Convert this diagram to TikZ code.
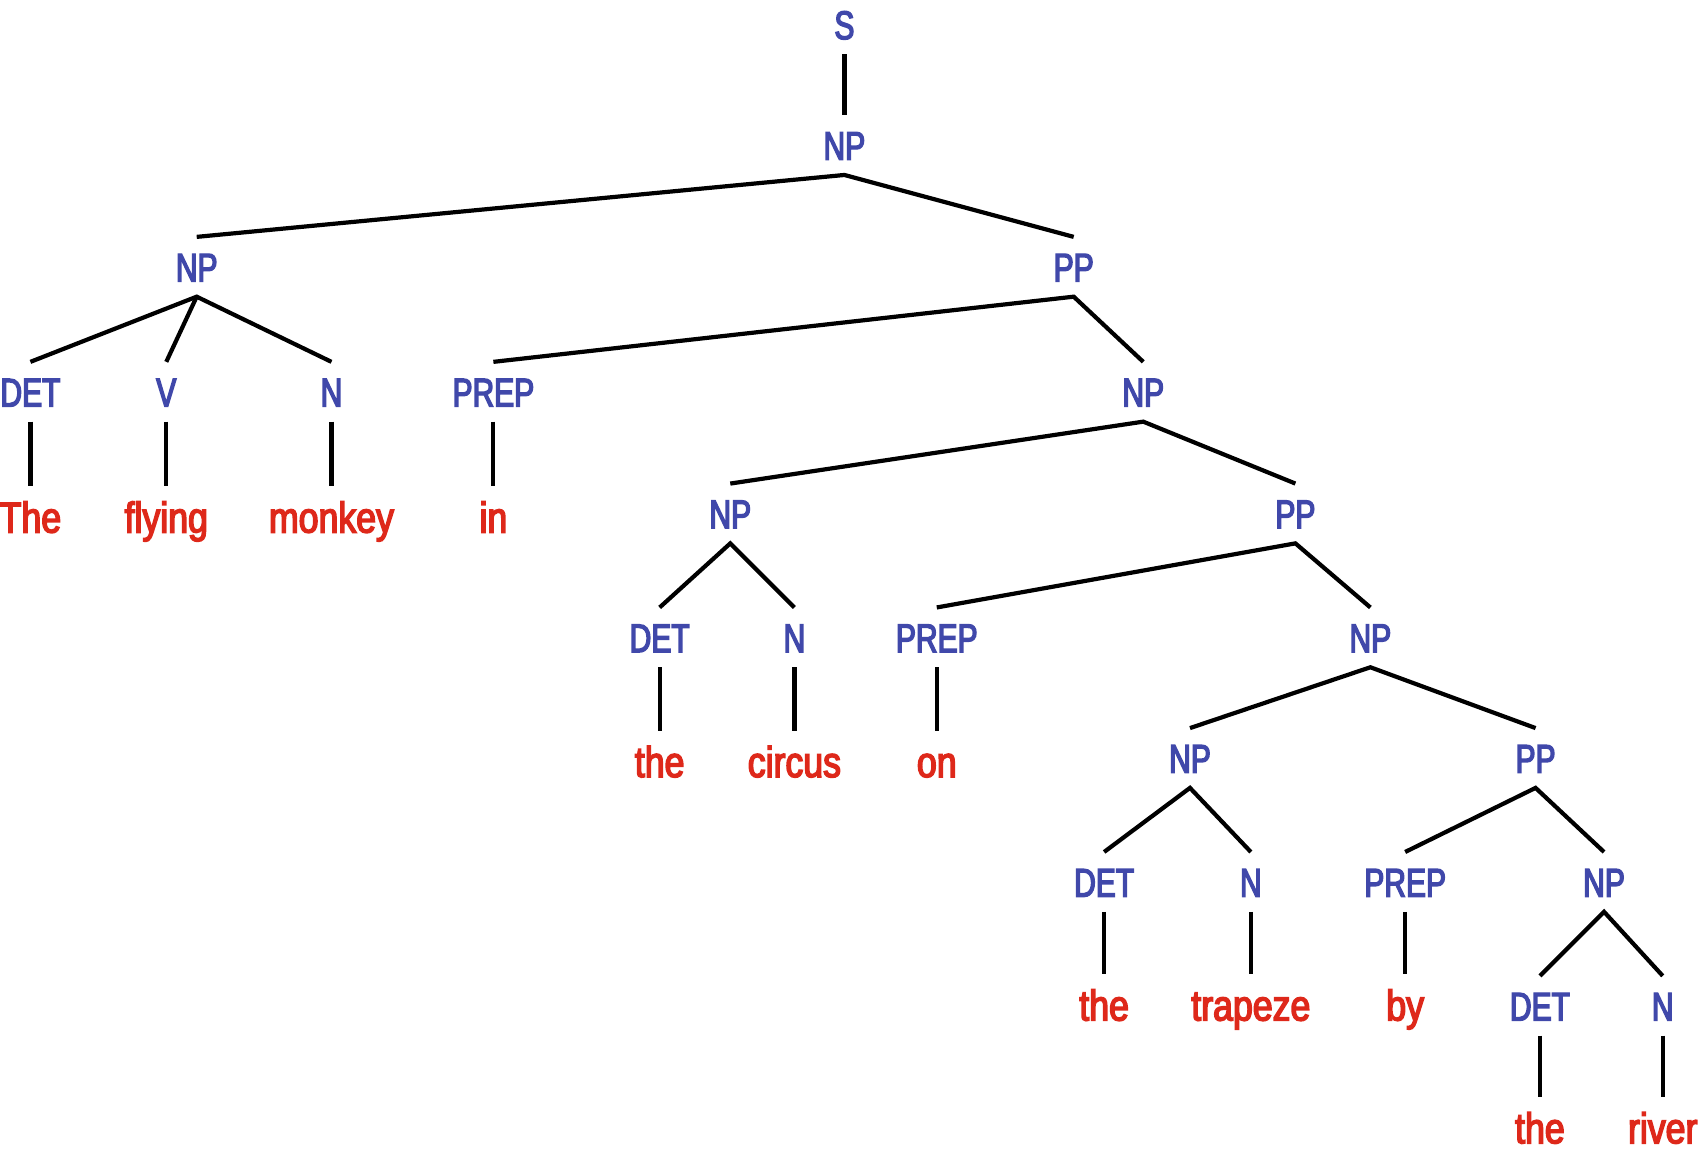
\documentclass[tikz,border=0pt]{standalone}
\usepackage{fontspec}
\newfontfamily\labfam[FakeStretch=0.75,FakeBold=3.5]{Liberation Sans}
\newfontfamily\wordfam[FakeStretch=0.83,FakeBold=3.5]{Liberation Sans}
\definecolor{labblue}{RGB}{64,72,170}
\definecolor{wordred}{RGB}{222,40,26}
\tikzset{
  lab/.style={text=labblue, font=\labfam\fontsize{20}{24}\selectfont, inner sep=0pt, outer sep=0pt,
    text height=22.3pt, text depth=7.6pt, anchor=base},
  word/.style={text=wordred, font=\wordfam\fontsize{21.5}{25}\selectfont, inner sep=0pt, outer sep=0pt,
    text height=23.2pt, text depth=0pt, anchor=base},
  edge/.style={line width=2.1pt, line join=miter}
}
\begin{document}
\begin{tikzpicture}[x=0.5434pt, y=-0.5434pt]
\useasboundingbox (0,0) rectangle (1568,1058);
% labels
\node[lab] (S) at (777,36) {S};
\node[lab] (NP0) at (777,147) {NP};
\node[lab] (NPa) at (181,259) {NP};
\node[lab] (PPa) at (988,259) {PP};
\node[lab] (DETa) at (28,374) {DET};
\node[lab] (Va) at (153,374) {V};
\node[lab] (Na) at (305,374) {N};
\node[lab] (PREPa) at (454,374) {PREP};
\node[lab] (NPb) at (1052,374) {NP};
\node[lab] (NPc) at (672,486) {NP};
\node[lab] (PPb) at (1192,486) {PP};
\node[lab] (DETc) at (607,600) {DET};
\node[lab] (Nc) at (731,600) {N};
\node[lab] (PREPb) at (862,600) {PREP};
\node[lab] (NPd) at (1261,600) {NP};
\node[lab] (NPe) at (1095,711) {NP};
\node[lab] (PPc) at (1413,711) {PP};
\node[lab] (DETe) at (1016,825) {DET};
\node[lab] (Ne) at (1151,825) {N};
\node[lab] (PREPc) at (1293,825) {PREP};
\node[lab] (NPf) at (1476,825) {NP};
\node[lab] (DETf) at (1417,939) {DET};
\node[lab] (Nf) at (1530,939) {N};
% words
\node[word] (w1) at (28,490) {The};
\node[word] (w2) at (153,490) {flying};
\node[word] (w3) at (305,490) {monkey};
\node[word] (w4) at (454,490) {in};
\node[word] (w5) at (607,715) {the};
\node[word] (w6) at (731,715) {circus};
\node[word] (w7) at (862,715) {on};
\node[word] (w8) at (1016,939) {the};
\node[word] (w9) at (1151,939) {trapeze};
\node[word] (w10) at (1293,939) {by};
\node[word] (w11) at (1417,1052) {the};
\node[word] (w12) at (1530,1052) {river};
% edges
\draw[edge] (S.south) -- (NP0.north);
\draw[edge] (NPa.north) -- (NP0.south) -- (PPa.north);
\draw[edge] (DETa.north) -- (NPa.south) -- (Na.north);
\draw[edge] (NPa.south) -- (Va.north);
\draw[edge] (PREPa.north) -- (PPa.south) -- (NPb.north);
\draw[edge] (NPc.north) -- (NPb.south) -- (PPb.north);
\draw[edge] (DETc.north) -- (NPc.south) -- (Nc.north);
\draw[edge] (PREPb.north) -- (PPb.south) -- (NPd.north);
\draw[edge] (NPe.north) -- (NPd.south) -- (PPc.north);
\draw[edge] (DETe.north) -- (NPe.south) -- (Ne.north);
\draw[edge] (PREPc.north) -- (PPc.south) -- (NPf.north);
\draw[edge] (DETf.north) -- (NPf.south) -- (Nf.north);
\draw[edge] (DETa.south) -- (w1.north);
\draw[edge] (Va.south) -- (w2.north);
\draw[edge] (Na.south) -- (w3.north);
\draw[edge] (PREPa.south) -- (w4.north);
\draw[edge] (DETc.south) -- (w5.north);
\draw[edge] (Nc.south) -- (w6.north);
\draw[edge] (PREPb.south) -- (w7.north);
\draw[edge] (DETe.south) -- (w8.north);
\draw[edge] (Ne.south) -- (w9.north);
\draw[edge] (PREPc.south) -- (w10.north);
\draw[edge] (DETf.south) -- (w11.north);
\draw[edge] (Nf.south) -- (w12.north);
\end{tikzpicture}
\end{document}
